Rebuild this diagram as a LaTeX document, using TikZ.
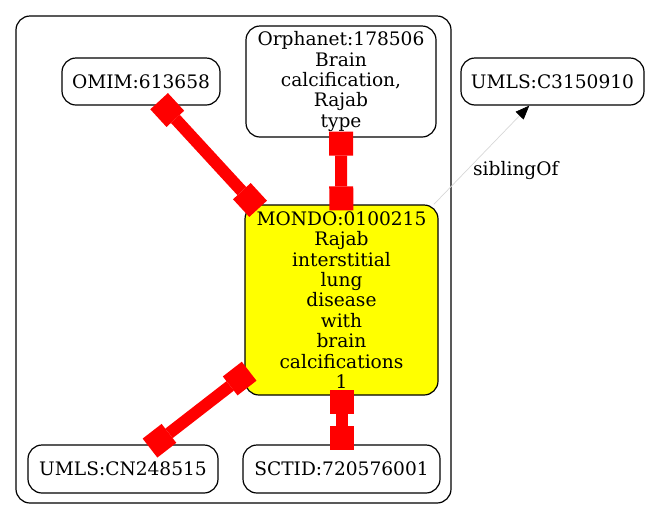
\documentclass[tikz,border=0pt]{standalone}
\usepackage{fontspec}
\setmainfont{DejaVu Serif}
\usetikzlibrary{arrows.meta}
\definecolor{gvyellow}{RGB}{255,255,0}
\definecolor{gvred}{RGB}{255,0,0}
\definecolor{gvgrey}{RGB}{215,215,215}
\tikzset{
  ent/.style={draw=black, line width=1.2pt, rounded corners=14pt, inner sep=0pt, align=center,
    font=\fontsize{18.6}{20.4}\selectfont},
  boxtip/.tip={Square[length=24pt,width=24pt,line width=0pt]},
  redlink/.style={draw=gvred, line width=12pt, {boxtip}-{boxtip}, shorten <=-6pt, shorten >=-6pt},
  sibling/.style={draw=gvgrey, line width=0.7pt, -{Triangle[length=14pt,width=11pt,color=black]}},
  lbl/.style={font=\fontsize{18.6}{20.4}\selectfont, inner sep=0pt}
}
\begin{document}
\begin{tikzpicture}[x=1pt,y=-1pt]
\useasboundingbox (0,0) rectangle (653,520);
\draw[line width=1.2pt, rounded corners=14pt] (16,16) rectangle (451,503);
\node[ent, minimum width=158pt, minimum height=47pt] (omim) at (141,81.5) {OMIM:613658};
\node[ent, minimum width=190pt, minimum height=111pt] (orpha) at (341,81.5) {Orphanet:178506\\Brain\\calcification,\\Rajab\\type};
\node[ent, minimum width=183pt, minimum height=47pt] (umlsc) at (552.5,81.5) {UMLS:C3150910};
\node[ent, fill=gvyellow, minimum width=193pt, minimum height=190pt] (mondo) at (341.5,300) {MONDO:0100215\\Rajab\\interstitial\\lung\\disease\\with\\brain\\calcifications\\1};
\node[ent, minimum width=190pt, minimum height=48pt] (umlscn) at (123,469) {UMLS:CN248515};
\node[ent, minimum width=197pt, minimum height=48pt] (sctid) at (341.5,469) {SCTID:720576001};
\draw[redlink] (omim) -- (mondo);
\draw[redlink] (orpha) -- (mondo);
\draw[redlink] (mondo) -- (umlscn);
\draw[redlink] (mondo) -- (sctid);
\draw[sibling] (mondo) -- (umlsc);
\node[lbl, anchor=west] (sib) at (473,170) {siblingOf};
\end{tikzpicture}
\end{document}
